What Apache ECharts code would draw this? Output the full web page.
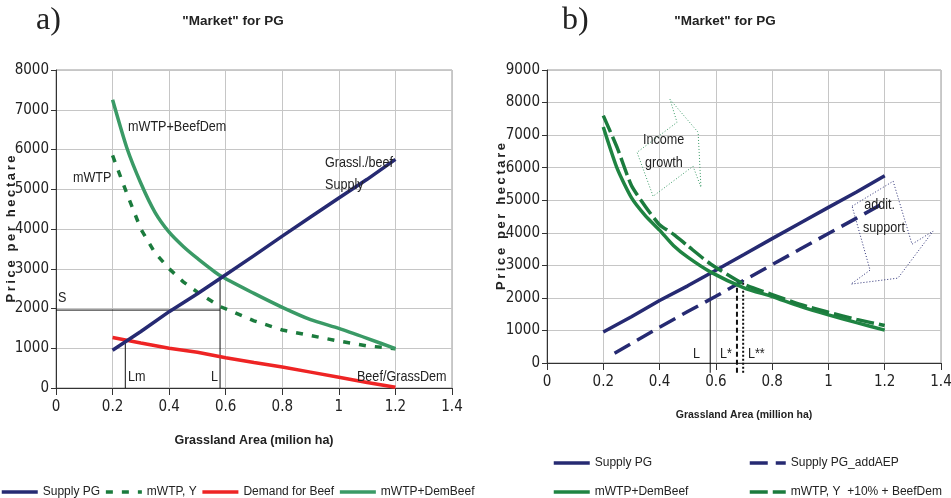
<!DOCTYPE html>
<html><head><meta charset="utf-8">
<script src="https://cdn.jsdelivr.net/npm/echarts@6/dist/echarts.min.js"></script>
<style>html,body{margin:0;padding:0;background:#fff;}
#a{position:absolute;left:0;top:0;width:475px;height:498px;}
#b{position:absolute;left:475px;top:0;width:476px;height:498px;}</style>
</head><body><div id="a"></div><div id="b"></div>
<script>
// ---------- data: chart a ----------
const supplyX = [0.2,0.3,0.4,0.5,0.6,0.7,0.8,0.9,1.0,1.1,1.2];
const supplyPG = [950,1420,1920,2370,2850,3330,3820,4300,4780,5250,5750];
const curveXa = [0.2,0.25,0.3,0.35,0.4,0.45,0.5,0.58,0.7,0.8,0.9,1.0,1.1,1.2];
const mwtpDemBeefA = [7250,6050,5150,4420,3920,3560,3260,2830,2380,2030,1720,1500,1250,990];
const mwtpY = [5850,4900,4000,3400,3000,2670,2410,2050,1690,1460,1320,1180,1060,990];
const beefX = [0.2,0.3,0.4,0.5,0.6,0.7,0.8,0.9,1.0,1.1,1.2];
const demandBeef = [1270,1130,1000,900,760,640,530,400,270,140,20];
// reference lines chart a
const sLevel = 1960, lA = 0.58, lTopA = 2820, lmX = 0.245, lmTop = 1190;
// ---------- data: chart b ----------
const addX = [0.24,0.3,0.4,0.5,0.6,0.7,0.8,0.9,1.0,1.1,1.2];
const supplyAdd = [300,600,1100,1580,2050,2540,3020,3500,3980,4450,4930];
const curveXb = [0.2,0.25,0.3,0.35,0.4,0.45,0.5,0.58,0.7,0.8,0.9,1.0,1.1,1.2];
const mwtpDemBeefB = [7250,5960,5080,4520,4080,3600,3250,2800,2310,2040,1740,1480,1240,1010];
const mwtp10 = [7600,6600,5450,4800,4250,3950,3600,3050,2420,2100,1800,1560,1340,1150];
const lB = 0.58, lTopB = 2790, lStar = 0.675, lStarTop = 2440, lStar2 = 0.697, lStar2Top = 2550, lBottom = -300;
// annotation arrows (data coords)
const incomeArrow = [[0.437,8098],[0.537,7086],[0.547,5399],[0.519,6043],[0.377,5123],[0.320,6472],[0.462,7393]];
const supportArrow = [[1.084,4816],[1.230,5583],[1.297,3650],[1.372,4049],[1.247,2607],[1.080,2423],[1.148,2853]];

const NARROW = '"DejaVu Sans Condensed","DejaVu Sans",sans-serif';
const SANS = '"Liberation Sans",Arial,sans-serif';
const NAVY = '#262a72', RED = '#ee2424', GREEN_A = '#3a9a66', DGREEN = '#1b7b3d', GREEN_B = '#1f8442';
const zip = (xs, ys) => xs.map((x, i) => [x, ys[i]]);
const spaced = s => s.split('').join('\u2009');

function xAxis(name, nameSize, gap) {
  return {type:'value', min:0, max:1.4, interval:0.2, name, nameLocation:'middle', nameGap:gap, nameMoveOverlap:false,
    nameTextStyle:{fontFamily:SANS, fontWeight:'bold', fontSize:nameSize, color:'#222'},
    axisLine:{onZero:false, lineStyle:{color:'#333', width:1}},
    axisTick:{show:true, length:7, lineStyle:{color:'#333'}},
    axisLabel:{fontFamily:NARROW, fontSize:15, color:'#222', margin:12, formatter:v => String(+v.toFixed(1))},
    splitLine:{show:true, lineStyle:{color:'#c6c6c6', width:1}}};
}
function yAxis(max, gap) {
  return {type:'value', min:0, max, interval:1000, name:spaced('Price per hectare'), nameLocation:'middle', nameGap:gap, nameMoveOverlap:false,
    nameTextStyle:{fontFamily:SANS, fontWeight:'bold', fontSize:13, color:'#222'},
    axisLine:{show:true, lineStyle:{color:'#333', width:1}},
    axisTick:{show:true, length:5, lineStyle:{color:'#333'}},
    axisLabel:{fontFamily:NARROW, fontSize:15, color:'#222', margin:7, formatter:v => String(v)},
    splitLine:{show:true, lineStyle:{color:'#c6c6c6', width:1}}};
}
function line(name, data, color, width, type, extra) {
  return Object.assign({type:'line', name, data, symbol:'none', showSymbol:false, animation:false,
    lineStyle:{color, width, type}, itemStyle:{color}}, extra || {});
}
function ref(data, type, width) {
  return {type:'line', data, symbol:'none', silent:true, animation:false, clip:false, z:1,
    lineStyle:{color:'#111', width, type}, itemStyle:{color:'#111'}, legendHoverLink:false};
}
const legendText = {fontFamily:SANS, fontSize:12, color:'#222'};
const legendItem = {opacity:0, borderWidth:0};
function legend(left, top, names) {
  return {left, top, padding:0, width:700, orient:'horizontal', itemWidth:36, itemHeight:12, itemGap:4,
    data:names, itemStyle:legendItem, lineStyle:{width:3.5}, textStyle:legendText};
}
function annot(chart, list) {
  return list.map(([t,p]) => { const q = chart.convertToPixel({gridIndex:0}, p); return {type:'text', x:q[0], y:q[1], z:10,
    scaleX:0.84, style:{text:t, verticalAlign:'middle', fontFamily:SANS, fontSize:15, fill:'#222'}}; });
}
const gridBase = {show:true, borderColor:'#999', borderWidth:1, backgroundColor:'transparent', containLabel:false, outerBoundsMode:'none'};

// ---------------- chart a ----------------
const ca = echarts.init(document.getElementById('a'), null, {renderer:'canvas'});
ca.setOption({
  animation:false,
  title:[
    {text:'a)', left:31, top:0, textStyle:{fontFamily:'"Liberation Serif",serif', fontWeight:'normal', fontSize:32, color:'#222'}},
    {text:'"Market" for PG', left:228, top:9, textAlign:'center', textStyle:{fontFamily:SANS, fontWeight:'bold', fontSize:13.5, color:'#222'}}
  ],
  grid:Object.assign({left:56, right:23, top:70, bottom:110}, gridBase),
  xAxis:xAxis('Grassland Area (milion ha)', 12.5, 46),
  yAxis:yAxis(8000, 38),
  legend:legend(0, 486, ['Supply PG','mWTP, Y','Demand for Beef','mWTP+DemBeef']),
  series:[
    ref([[0,sLevel],[lA,sLevel]], 'solid', 1),
    ref([[lA,0],[lA,lTopA]], 'solid', 1),
    ref([[lmX,0],[lmX,lmTop]], 'solid', 1),
    line('Demand for Beef', zip(beefX, demandBeef), RED, 3.5, 'solid'),
    line('mWTP, Y', zip(curveXa, mwtpY), DGREEN, 3.5, [7,9]),
    line('mWTP+DemBeef', zip(curveXa, mwtpDemBeefA), GREEN_A, 3.5, 'solid', {smooth:0.2}),
    line('Supply PG', zip(supplyX, supplyPG), NAVY, 3.5, 'solid')
  ]
});
ca.setOption({graphic:annot(ca, [
  ['mWTP+BeefDem',[0.2545,6566]],['mWTP',[0.06,5283]],['Grassl./beef',[0.951,5660]],['Supply',[0.951,5107]],
  ['S',[0.007,2264]],['Lm',[0.2545,277]],['L',[0.548,277]],['Beef/GrassDem',[1.064,277]]
])});

// ---------------- chart b ----------------
const cb = echarts.init(document.getElementById('b'), null, {renderer:'canvas'});
cb.setOption({
  animation:false,
  title:[
    {text:'b)', left:82, top:0, textStyle:{fontFamily:'"Liberation Serif",serif', fontWeight:'normal', fontSize:32, color:'#222'}},
    {text:'"Market" for PG', left:245, top:9, textAlign:'center', textStyle:{fontFamily:SANS, fontWeight:'bold', fontSize:13.5, color:'#222'}}
  ],
  grid:Object.assign({left:72, right:10, top:70, bottom:135}, gridBase),
  xAxis:xAxis('Grassland Area (million ha)', 10.5, 47),
  yAxis:yAxis(9000, 39),
  legend:[
    legend(77, 457, ['Supply PG']),
    legend(77, 486, ['mWTP+DemBeef']),
    legend(273, 457, ['Supply PG_addAEP']),
    legend(273, 486, ['mWTP, Y  +10% + BeefDem'])
  ],
  series:[
    ref([[lB,lBottom],[lB,lTopB]], 'solid', 1),
    ref([[lStar,lBottom],[lStar,lStarTop]], [5,3], 2),
    ref([[lStar2,lBottom],[lStar2,lStar2Top]], [2,2], 2),
    line('Supply PG', zip(supplyX, supplyPG), NAVY, 3.5, 'solid'),
    line('Supply PG_addAEP', zip(addX, supplyAdd), NAVY, 3.5, [18,8]),
    line('mWTP+DemBeef', zip(curveXb, mwtpDemBeefB), GREEN_B, 3.5, 'solid', {smooth:0.2}),
    line('mWTP, Y  +10% + BeefDem', zip(curveXb, mwtp10), DGREEN, 3.5, [18,5], {smooth:0.2})
  ]
});
const gB = annot(cb, [
  ['Income',[0.341,6840]],['growth',[0.348,6135]],['addit.',[1.127,4847]],['support',[1.123,4141]],
  ['L',[0.519,276]],['L*',[0.615,276]],['L**',[0.714,276]]
]);
const pb = p => cb.convertToPixel({gridIndex:0}, p);
gB.push({type:'polygon', z:9, shape:{points:incomeArrow.map(pb)}, style:{fill:'none', stroke:'#3a9a66', lineWidth:1, lineDash:[1,2]}});
gB.push({type:'polygon', z:9, shape:{points:supportArrow.map(pb)}, style:{fill:'none', stroke:'#262a72', lineWidth:1, lineDash:[1,2]}});
cb.setOption({graphic:gB});
</script></body></html>
